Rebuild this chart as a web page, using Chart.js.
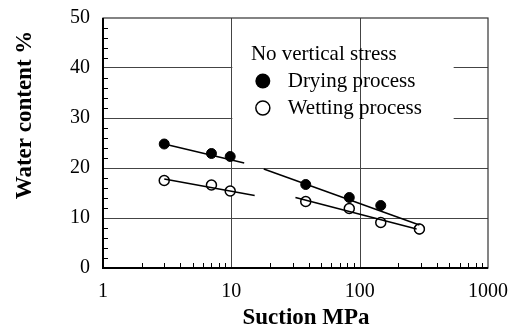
<!DOCTYPE html>
<html>
<head>
<meta charset="utf-8">
<script src="https://cdn.jsdelivr.net/npm/chart.js@4.4.1/dist/chart.umd.min.js"></script>
<style>
  html, body { margin: 0; padding: 0; background: #fff; }
  canvas { display: block; }
</style>
</head>
<body>
<canvas id="chart" width="514" height="332"></canvas>
<script>
// measured points (suction in MPa, water content in %)
const suction = [3, 7, 9.8, 38, 83, 146, 292];
const drying = [24.8, 22.9, 22.3, 16.7, 14.1, 12.5, 7.8];
const wetting = [17.5, 16.6, 15.4, 13.3, 11.9, 9.1, 7.8];

// fitted straight lines (end points)
const dryFitA_x = [3, 12.6];
const dryFitA_y = [24.8, 21.0];
const dryFitB_x = [17.9, 292];
const dryFitB_y = [19.8, 8.6];
const wetFitA_x = [3, 15.2];
const wetFitA_y = [17.8, 14.5];
const wetFitB_x = [31.6, 278];
const wetFitB_y = [14.1, 7.8];

const xTicks = [1, 10, 100, 1000];
const yTicks = [0, 10, 20, 30, 40, 50];

const legendTitle = 'No vertical stress';
const legendLabels = ['Drying process', 'Wetting process'];
const xTitle = 'Suction MPa';
const yTitle = 'Water content %';

const serif = '"Liberation Serif", "Times New Roman", serif';

const pts = (xs, ys) => xs.map((v, i) => ({ x: v, y: ys[i] }));

function fitLine(xs, ys) {
    return {
        data: pts(xs, ys),
        showLine: true,
        borderColor: '#000',
        borderWidth: 1.5,
        pointRadius: 0,
        fill: false
    };
}

// legend box, grid, minor ticks, frame, titles
const decorations = {
    id: 'decorations',
    beforeDatasetsDraw(chart) {
        const { ctx, chartArea: a, scales: { x, y } } = chart;
        ctx.save();
        // white legend background hides the horizontal grid lines
        const bx0 = x.getPixelForValue(10) + 1;
        const bx1 = x.getPixelForValue(540);
        const by0 = y.getPixelForValue(45);
        const by1 = y.getPixelForValue(27);
        ctx.fillStyle = '#fff';
        ctx.fillRect(bx0, by0, bx1 - bx0, by1 - by0);
        // vertical grid lines run through it
        ctx.strokeStyle = '#444';
        ctx.lineWidth = 1;
        [10, 100].forEach(v => {
            const px = Math.round(x.getPixelForValue(v)) + 0.5;
            ctx.beginPath();
            ctx.moveTo(px, a.top);
            ctx.lineTo(px, a.bottom);
            ctx.stroke();
        });
        // minor ticks, pointing inwards
        ctx.strokeStyle = '#000';
        for (let d = 1; d < 1000; d *= 10) {
            for (let m = 2; m <= 9; m++) {
                const px = Math.round(x.getPixelForValue(m * d)) + 0.5;
                ctx.beginPath();
                ctx.moveTo(px, a.bottom);
                ctx.lineTo(px, a.bottom - 5);
                ctx.stroke();
            }
        }
        for (let v = 2; v < 50; v += 2) {
            if (v % 10 === 0) continue;
            const py = Math.round(y.getPixelForValue(v)) + 0.5;
            ctx.beginPath();
            ctx.moveTo(a.left, py);
            ctx.lineTo(a.left + 5, py);
            ctx.stroke();
        }
        // frame
        ctx.strokeStyle = '#333';
        ctx.lineWidth = 1.2;
        ctx.strokeRect(a.left, a.top, a.right - a.left, a.bottom - a.top);
        ctx.strokeStyle = '#000';
        ctx.lineWidth = 2;
        ctx.beginPath();
        ctx.moveTo(a.left, a.top);
        ctx.lineTo(a.left, a.bottom);
        ctx.lineTo(a.right, a.bottom);
        ctx.stroke();
        ctx.restore();
    },
    afterDraw(chart) {
        const { ctx, scales: { x, y } } = chart;
        ctx.save();
        ctx.fillStyle = '#000';
        // legend
        ctx.font = '21px ' + serif;
        ctx.textBaseline = 'middle';
        ctx.textAlign = 'left';
        ctx.fillText(legendTitle, x.getPixelForValue(14.2), y.getPixelForValue(42.8));
        const rows = [y.getPixelForValue(37.4), y.getPixelForValue(32.0)];
        const mx = x.getPixelForValue(17.6);
        const tx = x.getPixelForValue(27.5);
        ctx.fillText(legendLabels[0], tx, rows[0]);
        ctx.fillText(legendLabels[1], tx, rows[1]);
        ctx.beginPath();
        ctx.arc(mx, rows[0], 7.5, 0, Math.PI * 2);
        ctx.fill();
        ctx.beginPath();
        ctx.arc(mx, rows[1], 7, 0, Math.PI * 2);
        ctx.lineWidth = 1.5;
        ctx.strokeStyle = '#000';
        ctx.stroke();
        // axis titles
        ctx.font = 'bold 23px ' + serif;
        ctx.textAlign = 'center';
        ctx.fillText(xTitle, 306, 318);
        ctx.translate(25, 115);
        ctx.rotate(-Math.PI / 2);
        ctx.fillText(yTitle, 0, 0);
        ctx.restore();
    }
};

new Chart(document.getElementById('chart'), {
    type: 'scatter',
    data: {
        datasets: [
            fitLine(dryFitA_x, dryFitA_y),
            fitLine(dryFitB_x, dryFitB_y),
            fitLine(wetFitA_x, wetFitA_y),
            fitLine(wetFitB_x, wetFitB_y),
            {
                label: legendLabels[1],
                data: pts(suction, wetting),
                pointRadius: 5,
                pointBackgroundColor: '#fff',
                pointBorderColor: '#000',
                pointBorderWidth: 1.5
            },
            {
                label: legendLabels[0],
                data: pts(suction, drying),
                pointRadius: 5,
                pointBackgroundColor: '#000',
                pointBorderColor: '#000',
                pointBorderWidth: 1
            }
        ]
    },
    options: {
        responsive: false,
        animation: false,
        layout: { padding: { top: 18, right: 26, left: 0, bottom: 0 } },
        plugins: {
            legend: { display: false },
            tooltip: { enabled: false }
        },
        scales: {
            x: {
                type: 'logarithmic',
                min: 1,
                max: 1000,
                afterFit: s => {
                    s.height = 64;
                    s.paddingLeft = 0;
                    s.paddingRight = 0;
                },
                afterBuildTicks: s => { s.ticks = xTicks.map(v => ({ value: v })); },
                ticks: {
                    color: '#000',
                    font: { family: serif, size: 20 },
                    padding: 12,
                    maxRotation: 0,
                    autoSkip: false,
                    callback: v => String(v)
                },
                grid: { display: false, drawTicks: false },
                border: { display: false }
            },
            y: {
                min: 0,
                max: 50,
                afterFit: s => {
                    s.width = 103;
                    s.paddingTop = 0;
                    s.paddingBottom = 0;
                },
                afterBuildTicks: s => { s.ticks = yTicks.map(v => ({ value: v })); },
                ticks: {
                    color: '#000',
                    font: { family: serif, size: 20 },
                    padding: 13
                },
                grid: {
                    drawTicks: false,
                    color: c => (c.tick && c.tick.value > 0 && c.tick.value < 50) ? '#444' : 'rgba(0,0,0,0)',
                    lineWidth: 1
                },
                border: { display: false }
            }
        }
    },
    plugins: [decorations]
});
</script>
</body>
</html>
